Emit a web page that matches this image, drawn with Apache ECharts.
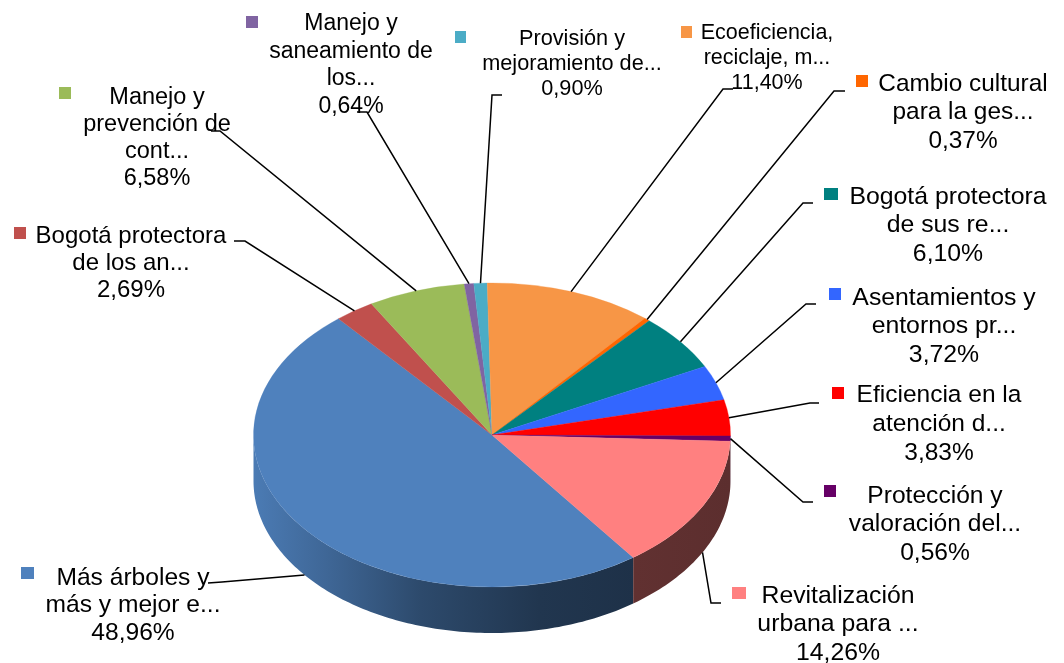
<!DOCTYPE html>
<html>
<head>
<meta charset="utf-8">
<style>
  html, body { margin: 0; padding: 0; background: #fff; }
  #chart { width: 1064px; height: 663px; }
</style>
<script src="https://cdn.jsdelivr.net/npm/echarts@6/dist/echarts.min.js"></script>
</head>
<body>
<div id="chart"></div>
<script>
// valores, en orden horario
var names = [
  'Más árboles y\nmás y mejor e...',
  'Bogotá protectora\nde los an...',
  'Manejo y\nprevención de\ncont...',
  'Manejo y\nsaneamiento de\nlos...',
  'Provisión y\nmejoramiento de...',
  'Ecoeficiencia,\nreciclaje, m...',
  'Cambio cultural\npara la ges...',
  'Bogotá protectora\nde sus re...',
  'Asentamientos y\nentornos pr...',
  'Eficiencia en la\natención d...',
  'Protección y\nvaloración del...',
  'Revitalización\nurbana para ...'
];
var values = [48.96, 2.69, 6.58, 0.64, 0.90, 11.40, 0.37, 6.10, 3.72, 3.83, 0.56, 14.26];
var colors = ['#4f81bd', '#c0504d', '#9bbb59', '#8064a2', '#4bacc6', '#f79646',
              '#ff6600', '#008080', '#3366ff', '#ff0000', '#660066', '#ff8080'];

// posicion de cada etiqueta: centro x, y de la primera linea, alto de linea, fuente
var labelX = [133, 131, 157, 351, 572, 767, 963, 948, 944, 939, 935, 838];
var labelY = [578, 236, 98, 24, 39, 33, 84, 197, 298, 395, 496, 596];
var labelStep = [27.5, 27, 27, 27.5, 25, 25, 28.5, 28.5, 28.5, 29, 28.5, 28.5];
var labelFont = [24.6, 24, 23.5, 23, 21.7, 21.5, 24.4, 24.8, 24.8, 24.5, 24.6, 24.8];
var keyX = [21, 14, 59, 246, 455, 681, 856, 824, 829, 832, 824, 732];
var keyY = [567, 227, 87, 16, 31, 26, 75, 188, 288, 387, 485, 587];
var keyW = [13, 12, 12, 12, 11, 11, 12, 14, 12, 12, 12, 14];
var elbowX = [222, 245, 220, 367, 492, 723, 834, 803, 806, 810, 803, 711];
var elbowY = [582, 241, 131, 112, 95, 89, 91, 203, 304, 403, 502, 603];
var endX = [208, 234, 211, 357, 502, 733, 845, 813, 816, 819, 813, 721];
var endY = [583, 241, 131, 112, 95, 89, 91, 203, 304, 403, 502, 603];

var cx = 492, cy = 435, rx = 238.5, ry = 152, depth = 46;
var firstAngle = 53.7; // grados, desde el este en sentido horario

var total = values.reduce(function (a, b) { return a + b; }, 0);
var starts = [];
values.reduce(function (acc, v, i) {
  starts[i] = firstAngle + acc / total * 360;
  return acc + v;
}, 0);

function sliceEnd(i) { return starts[i] + values[i] / total * 360; }
function rad(d) { return d * Math.PI / 180; }

function shade(hex, f) {
  var n = parseInt(hex.slice(1), 16);
  var r = Math.round((n >> 16) * f), g = Math.round(((n >> 8) & 255) * f), b = Math.round((n & 255) * f);
  return 'rgb(' + r + ',' + g + ',' + b + ')';
}

function wallFill(hex) {
  return new echarts.graphic.LinearGradient(cx - rx, 0, cx + rx, 0, [
    { offset: 0, color: shade(hex, 0.95) },
    { offset: 0.15, color: shade(hex, 0.8) },
    { offset: 0.35, color: shade(hex, 0.57) },
    { offset: 0.6, color: shade(hex, 0.42) },
    { offset: 0.8, color: shade(hex, 0.38) },
    { offset: 1, color: shade(hex, 0.36) }
  ], true);
}

// pared frontal: solo la parte de la porcion que cae en la mitad inferior
function renderWall(params) {
  var i = params.dataIndex, kids = [];
  [0, -360].forEach(function (k) {
    var lo = Math.max(starts[i] + k, 0), hi = Math.min(sliceEnd(i) + k, 180);
    if (hi <= lo) return;
    var top = [], bottom = [];
    for (var a = lo; ; a += 1) {
      var t = Math.min(a, hi);
      var px = cx + rx * Math.cos(rad(t)), py = cy + ry * Math.sin(rad(t));
      top.push([px, py]);
      bottom.unshift([px, py + depth]);
      if (a >= hi) break;
    }
    kids.push({
      type: 'polygon',
      shape: { points: top.concat(bottom) },
      style: { fill: wallFill(colors[i]) }
    });
  });
  return { type: 'group', children: kids };
}

function renderTop(params) {
  var i = params.dataIndex;
  return {
    type: 'sector',
    x: cx, y: cy, scaleY: ry / rx,
    shape: { cx: 0, cy: 0, r: rx, r0: 0, startAngle: rad(starts[i]), endAngle: rad(sliceEnd(i)), clockwise: true },
    style: { fill: colors[i], stroke: colors[i], lineWidth: 0.4 }
  };
}

function renderLabel(params, api) {
  var i = params.dataIndex;
  var mid = rad((starts[i] + sliceEnd(i)) / 2);
  var ax = cx + rx * Math.cos(mid), ay = cy + ry * Math.sin(mid);
  if (Math.sin(mid) > 0.2) ay += depth;
  var pct = api.value(0).toFixed(2).replace('.', ',') + '%';
  var lines = names[i].split('\n').concat(pct);
  var kids = [
    { type: 'rect', shape: { x: keyX[i], y: keyY[i], width: keyW[i], height: 12 }, style: { fill: colors[i] } },
    {
      type: 'polyline',
      shape: { points: [[ax, ay], [elbowX[i], elbowY[i]], [endX[i], endY[i]]] },
      style: { stroke: '#000', lineWidth: 1.5, fill: null }
    }
  ];
  lines.forEach(function (s, n) {
    kids.push({
      type: 'text',
      style: {
        text: s, x: labelX[i], y: labelY[i] + n * labelStep[i],
        align: 'center', verticalAlign: 'middle', fill: '#000',
        fontFamily: 'Liberation Sans', fontSize: labelFont[i]
      }
    });
  });
  return { type: 'group', children: kids };
}

var chart = echarts.init(document.getElementById('chart'));
var seriesBase = { type: 'custom', coordinateSystem: 'none', data: values, animation: false, silent: true };
chart.setOption({
  backgroundColor: '#fff',
  series: [
    Object.assign({ name: 'pared', renderItem: renderWall, z: 1 }, seriesBase),
    Object.assign({ name: 'tapa', renderItem: renderTop, z: 2 }, seriesBase),
    Object.assign({ name: 'etiquetas', renderItem: renderLabel, z: 3 }, seriesBase)
  ]
});
</script>
</body>
</html>
